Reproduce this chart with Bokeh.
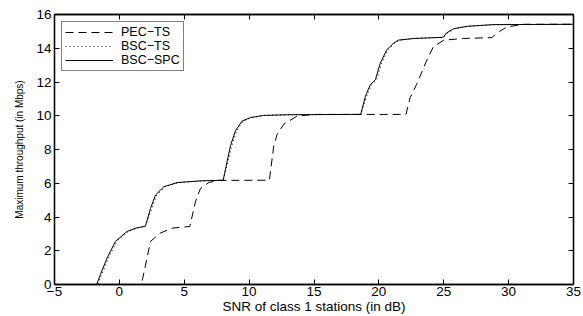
from bokeh.plotting import figure
from bokeh.models import LinearAxis, Range1d, FixedTicker, Legend, LegendItem
from bokeh.embed import file_html
from bokeh.resources import INLINE

# Data
pec_x = [-5, 1.7, 1.8, 2.4, 3.17, 4.07, 5.43, 5.86, 6.25, 6.89, 7.6, 11.56, 11.9, 12.16, 12.67, 13.7, 15.0,
         22.09, 22.4, 22.9, 23.7, 24.2, 25.0, 26.5, 28.7, 29.3, 29.87, 31.16, 35]
pec_y = [0, 0, 0.37, 2.56, 3.05, 3.34, 3.44, 4.9, 5.69, 6.04, 6.17, 6.18, 8.22, 8.9, 9.5, 9.98, 10.08,
         10.08, 11.06, 11.84, 13.3, 14.09, 14.48, 14.58, 14.63, 15.0, 15.26, 15.42, 15.42]

spc_x = [-5, -1.75, -1.46, -0.94, -0.3, 0.6, 1.3, 2.0, 2.4, 2.78, 3.42, 4.45, 6.25, 8.0, 8.56, 8.94, 9.46,
         10.1, 11.1, 13.0, 18.6, 18.96, 19.34, 19.73, 20.1, 20.6, 21.1, 21.5, 22.7, 24.97, 25.2, 25.76,
         26.8, 28.8, 35]
spc_y = [0, 0, 0.6, 1.58, 2.56, 3.15, 3.35, 3.45, 4.5, 5.3, 5.79, 6.04, 6.14, 6.18, 8.22, 9.1, 9.69,
         9.89, 10.02, 10.06, 10.08, 11.15, 11.84, 12.13, 13.1, 13.9, 14.28, 14.48, 14.58, 14.65, 14.9, 15.16,
         15.3, 15.4, 15.42]

bts_x = [-5, -1.65, -1.36, -0.84, -0.2, 0.7, 1.4, 2.0, 2.5, 2.88, 3.52, 4.55, 6.35, 8.0, 8.66, 9.04, 9.56,
         10.2, 11.2, 13.0, 18.6, 19.06, 19.44, 19.83, 20.2, 20.7, 21.2, 21.6, 22.8, 24.97, 25.3, 25.86,
         26.9, 28.9, 35]
bts_y = [0, 0, 0.6, 1.58, 2.56, 3.15, 3.35, 3.45, 4.5, 5.3, 5.79, 6.04, 6.14, 6.18, 8.22, 9.1, 9.69,
         9.89, 10.02, 10.06, 10.08, 11.15, 11.84, 12.13, 13.1, 13.9, 14.28, 14.48, 14.58, 14.65, 14.9, 15.16,
         15.3, 15.4, 15.42]

x_ticks = [-5, 0, 5, 10, 15, 20, 25, 30, 35]
y_ticks = [0, 2, 4, 6, 8, 10, 12, 14, 16]

FONT = "Liberation Sans"

p = figure(width=583, height=316, output_backend="svg", toolbar_location=None,
           x_range=Range1d(-5, 35), y_range=Range1d(0, 16),
           x_axis_label="SNR of class 1 stations (in dB)",
           y_axis_label="Maximum throughput (in Mbps)",
           min_border_left=54, min_border_right=10, min_border_top=14, min_border_bottom=29)
p.grid.visible = False
p.outline_line_color = "black"
p.outline_line_width = 1.3
p.background_fill_color = "white"
p.border_fill_color = "white"

def style_axis(ax, ticks, labels=True):
    ax.ticker = FixedTicker(ticks=ticks)
    ax.major_tick_in = 5
    ax.major_tick_out = 0
    ax.minor_tick_line_color = None
    ax.axis_line_color = "black"
    ax.axis_line_width = 1.3
    ax.major_tick_line_color = "black"
    ax.major_label_text_font = FONT
    ax.major_label_text_font_size = "13.5px" if labels else "1px"
    ax.major_label_text_color = "black" if labels else None
    ax.major_label_standoff = 3
    ax.axis_label_text_font = FONT
    ax.axis_label_text_font_style = "normal"
    ax.axis_label_text_color = "black"

style_axis(p.xaxis[0], x_ticks)
style_axis(p.yaxis[0], y_ticks)
p.xaxis[0].axis_label_text_font_size = "13.5px"
p.xaxis[0].axis_label_standoff = 0
p.xaxis[0].major_label_standoff = 2
p.yaxis[0].axis_label_text_font_size = "10px"
p.yaxis[0].axis_label_standoff = 8

top = LinearAxis()
style_axis(top, x_ticks, labels=False)
top.major_label_standoff = 0
p.add_layout(top, "above")
right = LinearAxis()
style_axis(right, y_ticks, labels=False)
right.major_label_standoff = 0
p.add_layout(right, "right")

r1 = p.line(pec_x, pec_y, line_color="black", line_width=1, line_dash="8 5")
r2 = p.line(bts_x, bts_y, line_color="black", line_width=1, line_dash="1 3")
r3 = p.line(spc_x, spc_y, line_color="black", line_width=1)

legend = Legend(items=[LegendItem(label="PEC\u2212TS", renderers=[r1]),
                       LegendItem(label="BSC\u2212TS", renderers=[r2]),
                       LegendItem(label="BSC\u2212SPC", renderers=[r3])],
                location="top_left")
legend.label_text_font = FONT
legend.label_text_font_size = "12.5px"
legend.label_text_color = "black"
legend.border_line_color = "black"
legend.border_line_width = 1.2
legend.glyph_width = 48
legend.glyph_height = 10
legend.label_height = 10
legend.spacing = 0
legend.padding = 3
legend.margin = 7
legend.label_standoff = 8
legend.label_text_line_height = 1.0
p.add_layout(legend)

open("out.html", "w").write(file_html(p, INLINE))
